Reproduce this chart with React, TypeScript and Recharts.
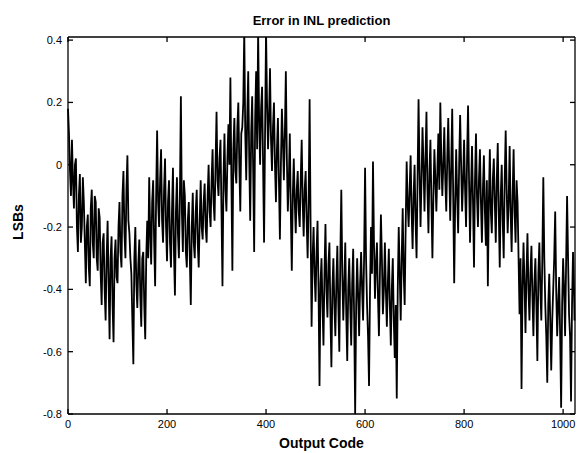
import React from 'react';
import { LineChart, Line, XAxis, YAxis } from 'recharts';

// INL prediction error, one value every 2 output codes:
// errorValues at codes 0, 4, 8, ... and midValues at codes 2, 6, 10, ...
const STEP = 4;
const errorValues = [
  0.18, -0.02, 0.08, -0.14, 0.02, -0.28, -0.03, -0.2,
  -0.12, -0.38, -0.16, -0.39, -0.08, -0.3, -0.12, -0.34,
  -0.17, -0.45, -0.22, -0.5, -0.18, -0.56, -0.23, -0.57,
  -0.24, -0.38, -0.12, -0.33, -0.02, -0.3, 0.03, -0.22,
  -0.35, -0.64, -0.2, -0.46, -0.24, -0.52, -0.28, -0.56,
  -0.18, -0.04, -0.32, -0.05, -0.39, 0.11, -0.2, 0.05,
  -0.25, 0.02, -0.31, -0.05, -0.33, -0.01, -0.42, -0.04,
  -0.3, 0.22, -0.28, -0.1, -0.33, -0.12, -0.45, -0.09,
  -0.3, -0.08, -0.33, -0.05, -0.24, -0.06, -0.25, 0.0,
  -0.2, 0.05, -0.18, 0.17, -0.1, 0.08, -0.39, 0.1,
  -0.15, 0.13, 0.28, -0.34, 0.15, -0.06, 0.2, -0.15,
  0.12, 0.43, -0.05, 0.3, -0.18, 0.22, -0.28, 0.3,
  0.43, 0.0, 0.25, -0.25, 0.43, 0.05, 0.31, -0.02,
  0.2, -0.12, 0.15, -0.24, 0.18, -0.05, 0.3, -0.15,
  0.1, -0.34, 0.02, -0.22, -0.02, -0.2, 0.08, -0.23,
  -0.02, -0.3, 0.21, -0.52, -0.2, -0.44, -0.18, -0.71,
  -0.3, -0.58, -0.19, -0.49, -0.25, -0.65, -0.3, -0.55,
  -0.26, -0.6, -0.08, -0.5, -0.25, -0.63, -0.3, -0.58,
  -0.27, -0.8, -0.3, -0.55, -0.28, -0.5, -0.01, -0.45,
  -0.71, -0.2, 0.01, -0.43, -0.25, -0.55, -0.16, -0.48,
  -0.25, -0.52, -0.27, -0.58, -0.3, -0.62, -0.75, -0.2,
  -0.5, -0.14, -0.45, 0.01, -0.2, 0.03, -0.27, 0.0,
  -0.3, 0.21, -0.2, 0.12, -0.15, 0.17, -0.22, 0.08,
  -0.3, 0.05, -0.15, 0.1, 0.2, -0.1, 0.12, -0.15,
  0.15, -0.18, 0.18, -0.38, 0.05, -0.22, 0.16, -0.15,
  0.08, -0.2, 0.19, -0.25, 0.06, -0.33, 0.1, -0.2,
  0.05, -0.25, 0.03, -0.26, -0.39, 0.05, -0.22, 0.02,
  -0.25, 0.07, -0.33, 0.0, -0.3, 0.11, -0.22, 0.06,
  -0.28, 0.05, -0.25, -0.12, -0.48, -0.72, -0.25, -0.54,
  -0.22, -0.5, -0.26, -0.55, -0.3, -0.63, -0.25, -0.5,
  -0.04, -0.45, -0.7, -0.35, -0.66, -0.4, -0.15, -0.55,
  -0.36, -0.78, -0.3, -0.55, -0.1, -0.48, -0.76, -0.28,
];
const midValues = [
  0.1, -0.1, -0.05, 0.0, -0.2, -0.1, -0.25, -0.04,
  -0.25, -0.2, -0.33, -0.14, -0.25, -0.1, -0.3, -0.14,
  -0.35, -0.25, -0.4, -0.3, -0.38, -0.3, -0.45, -0.3,
  -0.36, -0.2, -0.28, -0.1, -0.22, -0.08, -0.18, -0.3,
  -0.5, -0.3, -0.38, -0.32, -0.42, -0.3, -0.45, -0.3,
  -0.3, -0.22, -0.12, -0.25, -0.1, -0.12, -0.05, -0.18,
  -0.08, -0.2, -0.12, -0.25, -0.15, -0.28, -0.15, -0.22,
  -0.1, -0.15, -0.05, -0.28, -0.18, -0.3, -0.2, -0.25,
  -0.15, -0.25, -0.18, -0.2, -0.12, -0.2, -0.1, -0.15,
  -0.05, -0.12, 0.0, -0.05, 0.02, -0.15, -0.05, -0.08,
  0.02, 0.0, -0.05, 0.05, -0.02, 0.12, 0.0, 0.1,
  0.2, 0.1, 0.15, 0.02, 0.1, -0.02, 0.15, 0.05,
  0.15, 0.18, 0.0, 0.1, 0.2, 0.15, 0.08, 0.12,
  0.0, 0.05, -0.05, 0.0, 0.08, 0.1, 0.02, -0.05,
  -0.15, -0.1, -0.12, -0.08, -0.15, -0.05, -0.12, -0.08,
  -0.18, -0.12, -0.2, -0.3, -0.35, -0.28, -0.4, -0.38,
  -0.45, -0.35, -0.4, -0.32, -0.48, -0.4, -0.45, -0.38,
  -0.45, -0.3, -0.35, -0.38, -0.48, -0.4, -0.45, -0.38,
  -0.5, -0.45, -0.42, -0.38, -0.4, -0.3, -0.3, -0.55,
  -0.4, -0.35, -0.25, -0.32, -0.42, -0.35, -0.3, -0.4,
  -0.4, -0.38, -0.45, -0.4, -0.5, -0.45, -0.4, -0.35,
  -0.3, -0.35, -0.2, -0.12, -0.08, -0.15, -0.1, -0.18,
  -0.05, -0.02, -0.05, 0.0, 0.02, -0.08, -0.02, -0.12,
  -0.1, -0.05, -0.02, -0.08, 0.02, 0.0, -0.05, 0.02,
  -0.02, 0.0, -0.1, -0.12, -0.1, 0.0, 0.0, -0.05,
  -0.08, 0.02, -0.05, -0.08, -0.12, -0.05, -0.1, -0.05,
  -0.12, -0.08, -0.15, -0.05, -0.12, -0.15, -0.05, -0.12,
  -0.05, -0.15, -0.1, -0.18, -0.05, -0.08, -0.12, -0.15,
  -0.1, -0.15, -0.05, -0.3, -0.3, -0.4, -0.38, -0.35,
  -0.4, -0.35, -0.42, -0.38, -0.45, -0.35, -0.4, -0.3,
  -0.3, -0.55, -0.45, -0.5, -0.5, -0.3, -0.4, -0.45,
  -0.55, -0.45, -0.4, -0.32, -0.3, -0.55, -0.45, -0.4,
];
const lastCode = 1023;
const lastValue = -0.5;

const xTicks = [0, 200, 400, 600, 800, 1000];
const yTicks = [-0.8, -0.6, -0.4, -0.2, 0, 0.2, 0.4];

const data = errorValues
  .flatMap((v, i) => [
    { code: i * STEP, err: v },
    { code: i * STEP + STEP / 2, err: midValues[i] },
  ])
  .concat([{ code: lastCode, err: lastValue }]);

const FONT = '"Liberation Sans", Arial, sans-serif';
const tickStyle = { fontSize: 11, fill: '#000', fontFamily: FONT };
const noLabel = () => <g />;

export default function App() {
  return (
    <div style={{ position: 'relative', width: 576, height: 445, fontFamily: FONT, background: '#fff' }}>
      <div
        style={{
          position: 'absolute', left: 60, width: 507, top: 5, textAlign: 'center',
          fontSize: 13, fontWeight: 'bold', lineHeight: '15px',
        }}
      >
        Error in INL prediction
      </div>
      <div
        style={{
          position: 'absolute', left: 60, width: 507, top: 427, textAlign: 'center',
          fontSize: 14, fontWeight: 'bold', lineHeight: '16px',
        }}
      >
        Output Code
      </div>
      <div style={{ position: 'absolute', left: 10, top: 214, width: 0, height: 0 }}>
        <div
          style={{
            position: 'absolute', left: -30, top: -8, width: 60, textAlign: 'center',
            fontSize: 14, fontWeight: 'bold', lineHeight: '16px', transform: 'rotate(-90deg)',
          }}
        >
          LSBs
        </div>
      </div>

      <LineChart width={576} height={445} data={data} margin={{ top: 28, right: 8, bottom: 0, left: 0 }}>
        <XAxis
          dataKey="code"
          type="number"
          domain={[0, 1024]}
          ticks={xTicks}
          height={39}
          stroke="#000"
          strokeWidth={1.3}
          tickSize={-5}
          tickMargin={11}
          tick={tickStyle}
        />
        <XAxis
          xAxisId="top"
          orientation="top"
          dataKey="code"
          type="number"
          domain={[0, 1024]}
          ticks={xTicks}
          height={1}
          stroke="#000"
          strokeWidth={1.3}
          tickSize={-5}
          tick={noLabel}
        />
        <YAxis
          type="number"
          domain={[-0.8, 0.41]}
          ticks={yTicks}
          allowDataOverflow
          width={60}
          stroke="#000"
          strokeWidth={1.3}
          tickSize={-5}
          tickMargin={11}
          tick={tickStyle}
        />
        <YAxis
          yAxisId="right"
          orientation="right"
          type="number"
          domain={[-0.8, 0.41]}
          ticks={yTicks}
          allowDataOverflow
          width={1}
          stroke="#000"
          strokeWidth={1.3}
          tickSize={-5}
          tick={noLabel}
        />
        <Line
          type="linear"
          dataKey="err"
          stroke="#000"
          strokeWidth={1.8}
          dot={false}
          isAnimationActive={false}
        />
      </LineChart>
    </div>
  );
}
